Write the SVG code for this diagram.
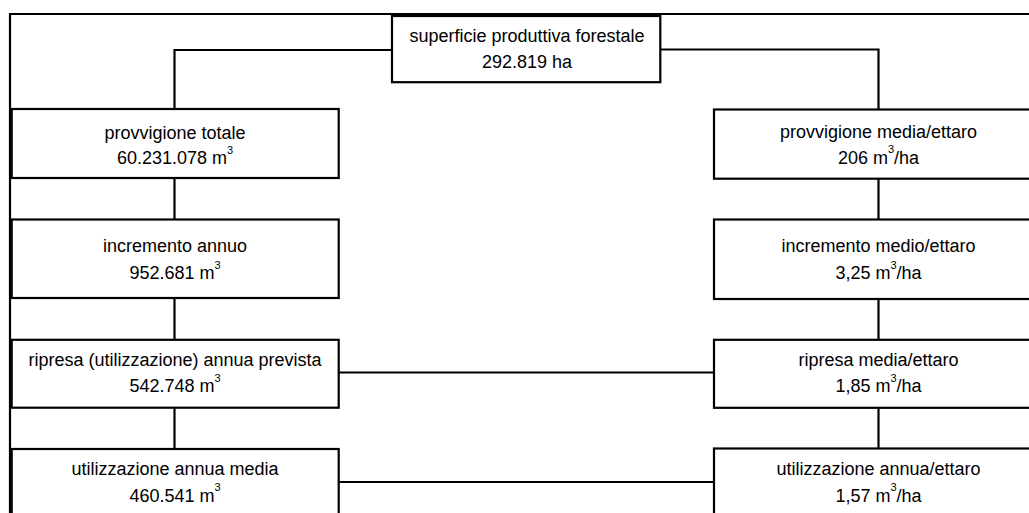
<svg xmlns="http://www.w3.org/2000/svg" width="1029" height="513" viewBox="0 0 1029 513">
<style>
.box{fill:#fff;stroke:#000;stroke-width:2.2}
.ln{fill:none;stroke:#000;stroke-width:2.2}
text{font-family:"Liberation Sans",Arial,sans-serif;font-size:18px;fill:#000;text-anchor:middle}
.sup{font-size:11px}
</style>
<rect x="0" y="0" width="1029" height="513" fill="#fff"/>
<g id="connectors">
<path class="ln" d="M10,513 V14 H1029"/>
<path class="ln" d="M392,50 H174.5 V109"/>
<path class="ln" d="M660,49.5 H878.5 V109.5"/>
<path class="ln" d="M174.5,178 V219.5 M174.5,298 V339.8 M174.5,407.7 V449"/>
<path class="ln" d="M878.5,178.7 V219.5 M878.5,299 V339.8 M878.5,407.8 V448.5"/>
<path class="ln" d="M338.7,372.5 H714"/>
<path class="ln" d="M338.7,482 H714"/>
</g>
<g id="n-superficie">
<rect class="box" x="392" y="16" width="268.3" height="66.2"/>
<text x="527" y="42.3">superficie produttiva forestale</text>
<text x="527" y="68.3">292.819 ha</text>
</g>
<g id="n-provvigione-totale">
<rect class="box" x="11.7" y="109" width="327" height="69"/>
<text x="175" y="138.5">provvigione totale</text>
<text x="175" y="164.3">60.231.078 m<tspan class="sup" dy="-10.5">3</tspan></text>
</g>
<g id="n-incremento-annuo">
<rect class="box" x="11.7" y="219.5" width="327" height="78.5"/>
<text x="175" y="252">incremento annuo</text>
<text x="175" y="279.3">952.681 m<tspan class="sup" dy="-10.5">3</tspan></text>
</g>
<g id="n-ripresa-annua">
<rect class="box" x="11.7" y="339.8" width="327" height="67.9"/>
<text x="175" y="366.3">ripresa (utilizzazione) annua prevista</text>
<text x="175" y="392.3">542.748 m<tspan class="sup" dy="-10.5">3</tspan></text>
</g>
<g id="n-utilizzazione-annua">
<rect class="box" x="11.7" y="449" width="327" height="72"/>
<text x="175" y="475.3">utilizzazione annua media</text>
<text x="175" y="501.7">460.541 m<tspan class="sup" dy="-10.5">3</tspan></text>
</g>
<g id="n-provvigione-media">
<rect class="box" x="714" y="109.5" width="328" height="69.2"/>
<text x="878.5" y="137.8">provvigione media/ettaro</text>
<text x="878.5" y="163.6">206 m<tspan class="sup" dy="-10.5">3</tspan><tspan dy="10.5">/ha</tspan></text>
</g>
<g id="n-incremento-medio">
<rect class="box" x="714" y="219.5" width="328" height="79.5"/>
<text x="878.5" y="252">incremento medio/ettaro</text>
<text x="878.5" y="279.3">3,25 m<tspan class="sup" dy="-10.5">3</tspan><tspan dy="10.5">/ha</tspan></text>
</g>
<g id="n-ripresa-media">
<rect class="box" x="714" y="339.8" width="328" height="68"/>
<text x="878.5" y="366.3">ripresa media/ettaro</text>
<text x="878.5" y="392.3">1,85 m<tspan class="sup" dy="-10.5">3</tspan><tspan dy="10.5">/ha</tspan></text>
</g>
<g id="n-utilizzazione-ettaro">
<rect class="box" x="714" y="448.5" width="328" height="72"/>
<text x="878.5" y="475.3">utilizzazione annua/ettaro</text>
<text x="878.5" y="501.7">1,57 m<tspan class="sup" dy="-10.5">3</tspan><tspan dy="10.5">/ha</tspan></text>
</g>
</svg>
